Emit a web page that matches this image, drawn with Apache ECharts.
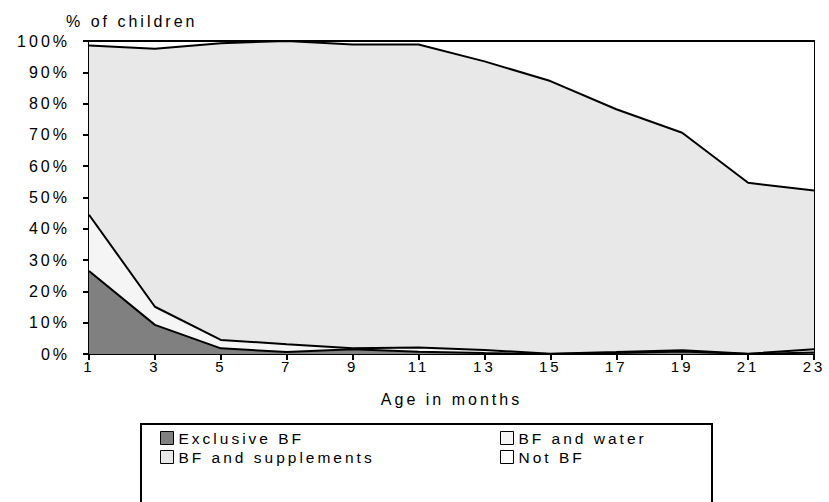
<!DOCTYPE html>
<html><head><meta charset="utf-8">
<script src="https://cdn.jsdelivr.net/npm/echarts@6/dist/echarts.min.js"></script>
<style>html,body{margin:0;padding:0;background:#fff}#c{width:829px;height:502px;letter-spacing:3px}#c text{letter-spacing:3px}</style>
</head><body><div id="c"></div>
<script>
const ages = ['1','3','5','7','9','11','13','15','17','19','21','23'];
const exclusiveBF = [26.5, 9.3, 1.8, 0.6, 1.5, 0.7, 0.3, 0, 0.3, 0.8, 0, 0.5];
const bfWater = [18.0, 5.8, 2.7, 2.5, 0.3, 1.4, 1.0, 0.1, 0.3, 0.4, 0.1, 1.0];
const bfSupplements = [54.1, 82.4, 94.8, 96.9, 97.1, 96.8, 92.2, 87.1, 77.6, 69.5, 54.6, 50.7];
const notBF = [1.4, 2.5, 0.7, 0, 1.1, 1.1, 6.5, 12.8, 21.8, 29.3, 45.3, 47.8];
const yTicks = [0,10,20,30,40,50,60,70,80,90,100];

const font = "'Liberation Sans', Arial, sans-serif";
const chart = echarts.init(document.getElementById('c'), null, {renderer:'svg'});
function areaSeries(name, data, color){
  return {name, type:'line', stack:'all', data, symbol:'none', showSymbol:false,
    lineStyle:{color:'#000', width:2}, areaStyle:{color, opacity:1},
    itemStyle:{color, borderColor:'#000', borderWidth:1}, emphasis:{disabled:true}, z:2};
}
const legendCommon = {orient:'vertical', icon:'rect', itemWidth:13, itemHeight:13, itemGap:3,
  textStyle:{fontFamily:font, fontSize:15.5, color:'#000'},
  itemStyle:{borderColor:'#000', borderWidth:1}, selectedMode:false, top:425};
chart.setOption({
  animation:false,
  title:{text:'% of children', left:61, top:8, textStyle:{fontFamily:font, fontSize:16, fontWeight:'normal', color:'#000'}},
  grid:{left:89, right:15, top:41, bottom:148, show:true, borderColor:'#000', borderWidth:2, backgroundColor:'transparent'},
  xAxis:{type:'category', data:ages, boundaryGap:false,
    name:'Age in months', nameLocation:'middle', nameGap:37,
    nameTextStyle:{fontFamily:font, fontSize:16, color:'#000'},
    axisLine:{lineStyle:{color:'#000', width:2}},
    axisTick:{show:true, length:6, inside:false, lineStyle:{color:'#000', width:2}},
    axisLabel:{fontFamily:font, fontSize:15, color:'#000', margin:5},
    splitLine:{show:false}},
  yAxis:{type:'value', min:0, max:100, interval:10,
    axisLine:{show:true, lineStyle:{color:'#000', width:2}},
    axisTick:{show:true, length:6, lineStyle:{color:'#000', width:2}},
    axisLabel:{fontFamily:font, fontSize:16, color:'#000', margin:19,
      formatter:v => yTicks.includes(v) ? v + '%' : ''},
    splitLine:{show:false}},
  legend:[
    Object.assign({}, legendCommon, {left:155, data:['Exclusive BF','BF and supplements']}),
    Object.assign({}, legendCommon, {left:495, data:['BF and water','Not BF']})
  ],
  graphic:[{type:'rect', shape:{x:141, y:424, width:571, height:90}, style:{fill:'none', stroke:'#000', lineWidth:2}, z:0}],
  series:[
    areaSeries('Exclusive BF', exclusiveBF, '#808080'),
    areaSeries('BF and water', bfWater, '#f5f5f5'),
    areaSeries('BF and supplements', bfSupplements, '#e8e8e8'),
    areaSeries('Not BF', notBF, '#ffffff')
  ]
});
</script></body></html>
